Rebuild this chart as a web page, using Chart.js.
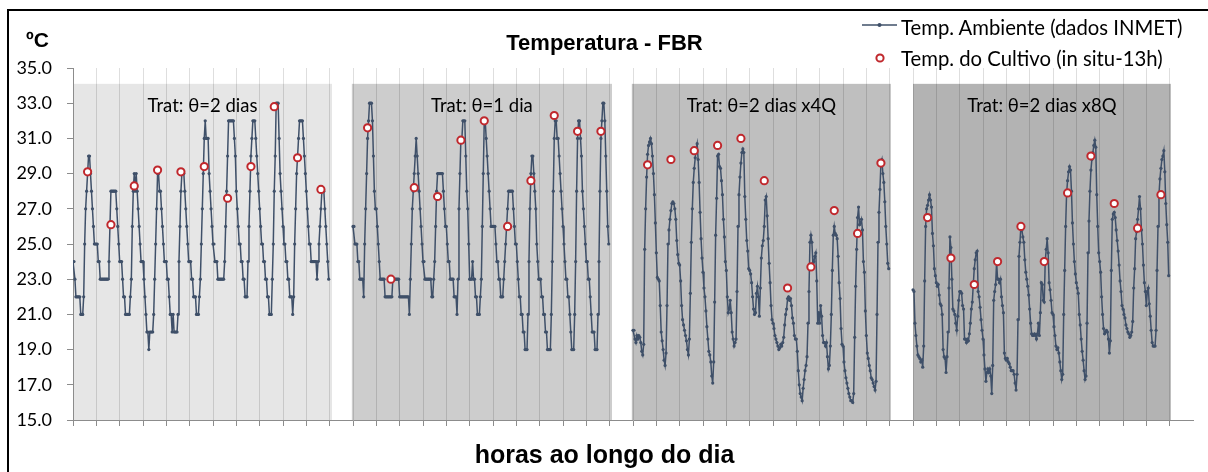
<!DOCTYPE html>
<html>
<head>
<meta charset="utf-8">
<script src="https://cdn.jsdelivr.net/npm/chart.js@4.4.1/dist/chart.umd.min.js"></script>
<style>
  body { margin: 0; background: #fff; }
  #wrap { position: relative; width: 1208px; height: 472px; overflow: hidden; }
  #chart { position: absolute; left: 0; top: 0; }
  #frame { position: absolute; left: 7px; top: 9px; width: 1260px; height: 520px; border: 2px solid #000; pointer-events: none; }
  .unit { position: absolute; left: 26px; top: 29px; font: bold 21px "Liberation Sans", Arial, sans-serif; line-height: 1; }
  .legtxt { position: absolute; left: 901px; font: 20.3px Lato, sans-serif; line-height: 1.2; white-space: nowrap; color: #000; }
  .legmk { position: absolute; }
</style>
</head>
<body>
<div id="wrap">
  <canvas id="chart" width="1208" height="472"></canvas>
  <div id="frame"></div>
  <div class="unit">ºC</div>
  <svg class="legmk" style="left:860px;top:18px" width="40" height="14">
    <line x1="2" y1="7" x2="37" y2="7" stroke="#3f5069" stroke-width="1.5"/>
    <circle cx="19.5" cy="7" r="2" fill="#3f5069"/>
  </svg>
  <div class="legtxt" style="top:15px">Temp. Ambiente (dados INMET)</div>
  <svg class="legmk" style="left:872px;top:51px" width="16" height="16">
    <circle cx="8" cy="7" r="3.6" fill="#fff" stroke="#c0282d" stroke-width="2"/>
  </svg>
  <div class="legtxt" style="top:46px">Temp. do Cultivo (in situ-13h)</div>
</div>
<script>
// hourly ambient temperature (INMET), 11 days per treatment, 24 values per day
const ambTrat1 = [
  24,24,23,22,22,22,22,22,21,21,21,22,25,27,28,29,30,30,29,28,27,26,25,25,
  25,25,24,24,23,23,23,23,23,23,23,23,23,24,26,28,28,28,28,28,28,27,26,25,
  24,24,24,23,22,22,21,21,21,21,21,22,23,26,28,29,28,29,28,27,26,25,24,24,
  24,23,22,21,20,20,19,20,20,20,20,21,23,25,27,29,29,28,28,27,26,25,24,24,
  24,23,23,22,21,21,20,21,20,20,20,20,21,24,26,28,29,29,29,28,27,26,25,24,
  24,24,23,23,22,22,22,21,21,21,22,23,25,27,29,31,32,31,31,31,29,28,27,26,
  25,25,24,24,24,23,23,23,23,23,23,23,24,26,28,30,32,32,32,32,32,32,31,30,
  28,27,26,25,25,24,24,23,23,22,22,22,24,26,28,30,31,32,32,32,31,30,29,28,
  27,26,25,25,24,24,23,23,22,22,21,21,21,23,25,28,30,33,33,33,31,29,28,27,
  26,25,25,24,24,23,23,22,22,22,21,22,25,27,29,30,31,32,32,32,32,31,30,29,
  28,27,26,25,25,24,24,24,24,24,24,23,24,25,26,27,28,28,28,27,26,25,24,23
];
const ambTrat2 = [
  26,26,25,25,25,24,24,23,23,23,23,22,25,27,29,31,32,33,33,33,32,30,28,27,
  27,26,25,24,23,23,23,23,23,22,22,22,22,22,22,22,22,23,23,23,23,23,23,23,
  22,22,22,22,22,22,22,22,22,22,21,23,25,27,28,29,30,31,30,29,28,27,26,25,
  24,24,23,23,23,23,23,23,23,22,22,23,24,26,28,29,29,29,29,29,29,28,27,26,
  26,25,24,24,23,23,23,23,22,22,22,21,23,27,29,31,31,32,32,32,30,28,27,25,
  23,23,23,24,23,23,22,22,21,21,21,22,23,26,29,32,32,31,30,29,28,27,26,26,
  26,26,26,25,24,24,23,23,22,22,22,23,24,25,26,27,28,28,28,28,28,27,26,25,
  25,24,23,22,22,21,21,20,20,19,19,19,21,24,27,29,30,30,29,28,27,25,24,23,
  23,23,22,22,21,21,20,20,19,19,19,19,21,24,28,31,32,32,31,31,30,29,28,27,
  26,25,24,23,23,22,22,21,20,19,19,19,21,24,28,31,32,32,31,30,28,27,26,25,
  24,24,23,23,22,21,20,20,20,19,19,19,21,24,28,31,32,33,33,32,30,28,26,25
];
const ambTrat3 = [
  20.1,20.1,19.6,19.4,19.8,19.6,19.8,19.7,19.4,18.9,18.7,19.3,24.7,27.0,28.8,30.1,30.6,30.8,31.0,30.7,30.0,29.0,27.8,26.2,
  24.5,23.1,23.0,22.9,21.5,20.0,19.5,19.0,18.4,18.1,18.8,21.5,25.0,25.8,26.4,26.9,27.3,27.4,27.3,27.0,26.4,25.2,24.4,23.9,
  23.8,22.9,21.5,20.7,20.4,20.1,19.8,19.5,19.0,18.7,19.6,22.2,25.1,27.0,28.5,29.3,29.9,30.4,30.7,29.8,28.5,26.8,25.3,24.2,
  23.4,22.5,22.0,21.2,20.3,19.6,18.9,18.7,18.3,17.5,17.1,18.3,21.7,25.5,27.6,30.0,30.1,29.4,29.3,28.6,27.8,26.4,25.4,24.0,
  23.5,22.0,21.1,21.3,21.8,21.1,20.0,19.6,19.2,19.4,19.6,22.3,26.0,27.8,28.8,29.6,30.2,30.4,30.2,27.7,26.4,25.2,24.6,23.6,
  23.5,23.3,22.8,22.0,21.3,21.0,21.1,22.2,22.6,22.0,20.9,22.5,24.2,24.9,25.2,26.0,27.5,27.7,26.6,25.3,23.9,22.8,21.5,20.7,
  20.5,20.2,19.8,19.6,19.4,19.2,19.0,19.1,19.3,19.2,19.4,19.7,20.4,21.0,21.3,21.9,22.0,21.8,21.9,21.5,20.8,20.5,19.8,19.6,
  19.6,18.9,17.8,17.0,16.5,16.3,16.1,16.8,17.3,17.8,18.1,18.6,20.5,22.3,25.1,25.5,25.1,23.9,24.0,24.3,24.5,22.9,20.5,21.1,
  20.5,21.5,20.9,19.8,19.4,19.4,19.2,19.4,18.6,17.9,18.1,19.2,21.0,23.5,25.5,26.0,25.6,25.5,25.3,24.3,22.8,21.9,20.2,19.3,
  19.2,18.3,17.8,17.4,17.1,16.8,16.5,16.3,16.1,16.1,16.0,16.5,19.7,22.6,24.7,26.5,27.1,26.1,26.2,26.4,25.8,24.0,23.4,21.2,
  19.8,18.8,18.5,18.1,17.8,17.4,17.3,17.1,16.9,16.7,17.2,21.0,25.1,26.8,28.1,29.6,29.8,29.0,28.5,27.4,26.0,25.0,23.9,23.6
];
const ambTrat4 = [
  22.4,22.3,20.5,19.8,19.2,18.7,18.6,18.5,18.3,18.4,18.0,19.2,22.9,26.0,27.0,27.2,27.5,27.8,27.5,27.1,25.6,24.9,23.6,23.2,
  22.8,22.6,22.7,22.1,21.6,21.5,21.0,19.0,18.6,18.5,17.7,18.6,20.0,22.5,25.4,24.8,23.0,21.3,21.2,21.0,20.5,20.1,20.9,21.8,
  22.3,22.3,22.2,21.5,21.3,19.6,19.6,19.4,19.6,19.5,19.9,20.5,21.3,21.7,22.7,23.6,24.1,24.5,24.6,22.3,22.0,21.4,20.7,20.1,
  19.6,18.7,17.9,17.2,17.7,17.9,17.7,17.9,17.5,16.5,18.1,21.8,22.3,22.7,24.0,23.0,23.0,22.8,23.0,22.0,21.5,21.1,18.8,18.5,
  18.4,18.5,18.3,18.2,18.0,17.8,17.8,17.8,17.6,17.1,16.7,17.6,20.7,24.3,25.1,26.0,25.8,25.4,25.1,24.1,23.4,23.0,22.6,22.1,
  21.3,20.5,19.9,19.8,19.8,19.9,19.8,19.6,19.9,20.5,19.8,21.1,22.8,22.7,21.8,21.7,24.0,24.7,25.3,24.5,22.8,22.4,21.8,21.1,
  21.0,20.3,19.8,19.2,19.0,19.1,18.8,18.3,17.8,17.3,17.6,21.0,23.5,26.0,27.9,28.6,29.1,29.4,29.2,28.0,26.2,25.0,24.0,23.3,
  22.8,22.5,22.2,21.0,20.4,19.6,18.9,18.4,17.8,17.3,17.5,20.5,24.5,26.3,28.0,29.2,29.8,30.2,30.6,30.9,30.5,27.8,26.0,24.5,
  24.0,23.4,22.0,21.0,20.2,19.9,20.0,20.1,20.0,19.6,18.8,19.5,23.5,26.4,26.7,26.8,26.5,25.8,25.2,24.6,23.8,22.9,22.3,21.5,
  21.3,21.0,20.8,20.4,20.2,20.0,19.9,19.7,19.8,20.0,20.6,22.5,23.6,25.3,25.7,26.4,27.0,27.7,27.0,25.8,25.0,23.8,22.8,22.3,
  21.5,22.3,22.5,21.6,20.9,20.1,19.4,19.2,19.2,19.2,20.1,23.5,26.0,27.8,28.7,29.3,29.8,30.0,30.3,29.1,27.3,26.1,25.1,23.2
];

// crop temperature measured in situ, one reading per day
const cultivoTrat1 = [29.1, 26.1, 28.3, 29.2, 29.1, 29.4, 27.6, 29.4, 32.8, 29.9, 28.1];
const cultivoTrat2 = [31.6, 23.0, 28.2, 27.7, 30.9, 32.0, 26.0, 28.6, 32.3, 31.4, 31.4];
const cultivoTrat3 = [29.5, 29.8, 30.3, 30.6, 31.0, 28.6, 22.5, 23.7, 26.9, 25.6, 29.6];
const cultivoTrat4 = [26.5, 24.2, 22.7, 24.0, 26.0, 24.0, 27.9, 30.0, 27.3, 25.9, 27.8];

const tratLabels = ['Trat: \u03b8=2 dias', 'Trat: \u03b8=1 dia', 'Trat: \u03b8=2 dias x4Q', 'Trat: \u03b8=2 dias x8Q'];
const tratStartDay = [0, 12, 24, 36];
const tratFrom = [0, 11.95, 23.95, 36];
const tratTo = [11.1, 23.1, 35.05, 47.05];
const panelTop = 34.1;
const cultivoHour = 15;

const panelColors = ['#e6e6e6', '#cdcdcd', '#bfbfbf', '#b3b3b3'];
const lineColor = '#3f5069';

const ambSeries = [ambTrat1, ambTrat2, ambTrat3, ambTrat4];
const cultSeries = [cultivoTrat1, cultivoTrat2, cultivoTrat3, cultivoTrat4];

const ambPoints = [];
ambSeries.forEach((arr, p) => {
  arr.forEach((v, i) => ambPoints.push({ x: tratStartDay[p] + i / 24, y: v }));
  ambPoints.push({ x: tratStartDay[p] + 11.5, y: null });
});
const cultPoints = [];
cultSeries.forEach((arr, p) => {
  arr.forEach((v, d) => cultPoints.push({ x: tratStartDay[p] + d + cultivoHour / 24, y: v }));
});

const panelPlugin = {
  id: 'panels',
  beforeDraw(chart) {
    const { ctx, scales: { x, y } } = chart;
    ctx.save();
    tratFrom.forEach((from, i) => {
      const l = x.getPixelForValue(from);
      const r = x.getPixelForValue(tratTo[i]);
      const t = y.getPixelForValue(panelTop);
      const b = y.getPixelForValue(y.min);
      ctx.fillStyle = panelColors[i];
      ctx.fillRect(l, t, r - l, b - t);
    });
    ctx.restore();
  },
  afterDatasetsDraw(chart) {
    const { ctx, chartArea, scales: { x } } = chart;
    ctx.save();
    ctx.font = '18.5px Lato';
    ctx.fillStyle = '#000';
    ctx.textAlign = 'center';
    ctx.textBaseline = 'alphabetic';
    tratLabels.forEach((txt, i) => {
      const cx = (x.getPixelForValue(tratFrom[i]) + x.getPixelForValue(tratTo[i])) / 2;
      ctx.fillText(txt, cx, chartArea.top + 43.5);
    });
    ctx.restore();
  }
};

Chart.defaults.font.family = 'Lato';
Chart.defaults.color = '#000';

new Chart(document.getElementById('chart'), {
  type: 'line',
  data: {
    datasets: [
      {
        label: 'Temp. do Cultivo (in situ-13h)',
        data: cultPoints,
        showLine: false,
        pointRadius: 3.6,
        pointBorderWidth: 2,
        pointBorderColor: '#c0282d',
        pointBackgroundColor: '#ffffff',
        order: 0
      },
      {
        label: 'Temp. Ambiente (dados INMET)',
        data: ambPoints,
        borderColor: lineColor,
        borderWidth: 1.5,
        pointRadius: 1.6,
        pointBorderWidth: 0,
        pointBackgroundColor: lineColor,
        tension: 0,
        spanGaps: false,
        order: 1
      }
    ]
  },
  options: {
    responsive: false,
    animation: false,
    layout: { padding: { left: 16, right: 15, top: 0, bottom: 0 } },
    plugins: {
      legend: { display: false },
      tooltip: { enabled: false },
      title: {
        display: true,
        text: 'Temperatura - FBR',
        font: { family: 'Liberation Sans', size: 22, weight: 'bold' },
        padding: { top: 31, bottom: 10.6 }
      },
      subtitle: {
        display: true,
        position: 'bottom',
        text: 'horas ao longo do dia',
        font: { family: 'Liberation Sans', size: 25, weight: 'bold' },
        padding: { top: 0, bottom: 1 }
      }
    },
    scales: {
      x: {
        type: 'linear',
        min: 0,
        max: 48,
        afterBuildTicks: s => { s.ticks = s.ticks.filter(t => t.value <= 47); },
        afterFit: s => { s.height = 21; },
        ticks: { stepSize: 1, display: false },
        grid: {
          color: 'rgba(0,0,0,0.13)',
          drawTicks: true,
          tickLength: 6,
          tickColor: '#8c8c8c'
        },
        border: { color: '#8c8c8c' }
      },
      y: {
        min: 15,
        max: 35,
        afterFit: s => { s.width = 57; },
        ticks: {
          stepSize: 2,
          padding: 15,
          font: { size: 18 },
          callback: v => v.toFixed(1)
        },
        grid: {
          drawOnChartArea: false,
          drawTicks: true,
          tickLength: 6,
          tickColor: '#8c8c8c'
        },
        border: { color: '#8c8c8c' }
      }
    }
  },
  plugins: [panelPlugin]
});
</script>
</body>
</html>
